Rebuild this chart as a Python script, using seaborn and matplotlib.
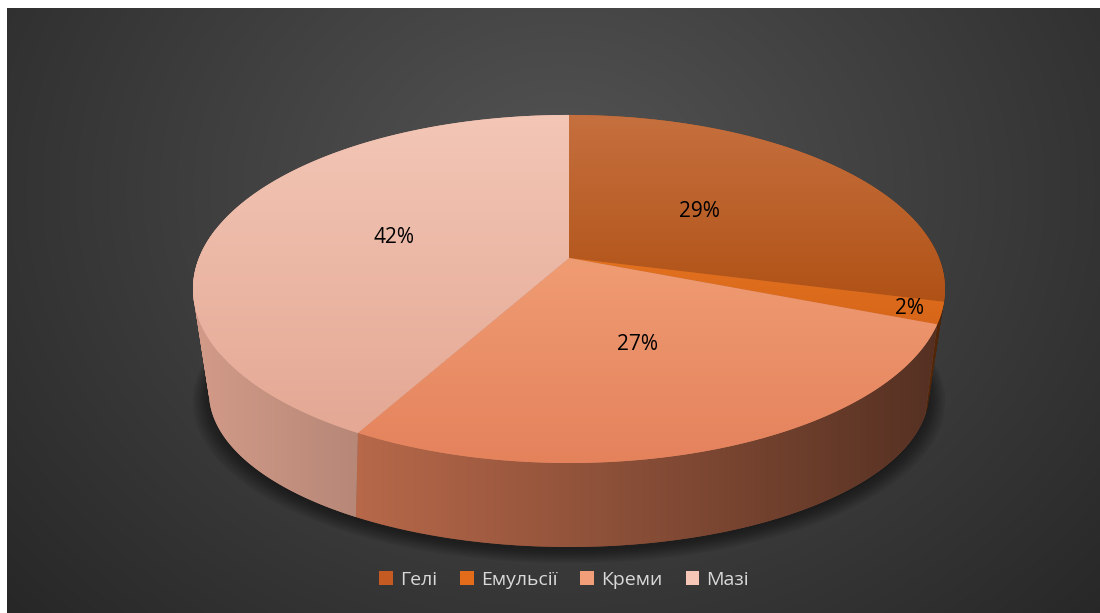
import numpy as np
import matplotlib
matplotlib.use("Agg")
import matplotlib.pyplot as plt
import seaborn as sns
from matplotlib.patches import Polygon, Patch, PathPatch
from matplotlib.path import Path
from matplotlib.colors import to_rgb

# ---------------- data ----------------
categories = ["Гелі", "Емульсії", "Креми", "Мазі"]
values = [29, 2, 27, 42]
legend_colors = ["#C55A22", "#E36C1A", "#F29E78", "#F6C7B6"]
top_light = ["#C6703F", "#E2711F", "#F09C73", "#F3C6B6"]
top_dark = ["#B05216", "#D8661A", "#E4825C", "#E4A894"]
label_radius = [0.47, 0.92, 0.5, 0.5]

sns.set_theme(style="white")
plt.rcParams['font.family'] = ['Open Sans', 'DejaVu Sans']
palette = sns.color_palette(legend_colors)

W, H = 1100, 613
fig = plt.figure(figsize=(11, 6.13), dpi=100, facecolor="white")
ax = fig.add_axes([0, 0, 1, 1])
ax.set_autoscale_on(False)
ax.set_xlim(0, W)
ax.set_ylim(H, 0)
ax.axis("off")

# ---------------- background ----------------
ys, xs = np.mgrid[8:613, 7:1100]
r = np.sqrt(((xs - 560) / 1.2) ** 2 + (ys - 190) ** 2)
val = np.clip(84 - 46 * (r / 640), 38, 90) / 255.0
bg = np.dstack([val, val, val])
ax.imshow(bg, extent=(7, 1100, 613, 8), origin="upper", interpolation="bilinear", zorder=0)

# ---------------- geometry (perspective pie) ----------------
CX, CY, RX, RY, C = 569, 258, 370, 168.5, 0.178
BCY, BRX, BRY, BC = 355.4, 349.5, 145.6, 0.24


def top_pt(theta, rr=1.0):
    t = np.radians(theta)
    u, v = rr * np.sin(t), rr * np.cos(t)
    w = 1 + C * v
    return CX + RX * u / w, CY - RY * v / w


def bot_pt(theta):
    t = np.radians(theta)
    u, v = np.sin(t), np.cos(t)
    w = 1 + BC * v
    return CX + BRX * u / w, BCY - BRY * v / w


def fill_gradient(path, allpts, colfunc, z):
    allpts = np.asarray(allpts)
    x0, y0 = allpts.min(axis=0) - 2
    x1, y1 = allpts.max(axis=0) + 2
    nx, ny = int(x1 - x0) + 1, int(y1 - y0) + 1
    gx, gy = np.meshgrid(np.linspace(x0, x1, nx), np.linspace(y0, y1, ny))
    img = colfunc(gx, gy)
    mid = tuple(img[ny // 2, nx // 2])
    patch = PathPatch(path, facecolor=mid, edgecolor="none", zorder=z)
    ax.add_patch(patch)
    im = ax.imshow(img, extent=(x0, x1, y1, y0), origin="upper",
                   interpolation="bilinear", zorder=z + 0.1)
    im.set_clip_path(patch)


total = float(sum(values))
bounds = np.concatenate([[0], np.cumsum(values)]) / total * 360.0

# shadow
th_all = np.linspace(0, 360, 200)
bx, by = bot_pt(th_all)
for k in range(10):
    s = 1.0 + 0.005 * k
    sx = 569 + (bx - 569) * s
    sy = 392 + (by - 392) * s + 3 + 0.7 * k
    ax.add_patch(Polygon(np.column_stack([sx, sy]), closed=True,
                         facecolor="black", edgecolor="none", alpha=0.055, zorder=1))

# side walls: union of thin quads, consistently oriented, filled with a gradient
for i in range(len(values)):
    a, b = max(bounds[i], 80), min(bounds[i + 1], 280)
    if b <= a:
        continue
    n = max(3, int((b - a) * 2))
    th = np.linspace(a, b, n)
    tx, ty = top_pt(th)
    bxx, byy = bot_pt(th)
    verts, codes = [], []
    for k in range(n - 1):
        q = np.array([(tx[k], ty[k]), (tx[k + 1], ty[k + 1]),
                      (bxx[k + 1], byy[k + 1]), (bxx[k], byy[k])])
        area = 0.5 * np.sum(q[:, 0] * np.roll(q[:, 1], -1) - np.roll(q[:, 0], -1) * q[:, 1])
        if area < 0:
            q = q[::-1]
        verts += list(map(tuple, q)) + [tuple(q[0])]
        codes += [Path.MOVETO, Path.LINETO, Path.LINETO, Path.LINETO, Path.CLOSEPOLY]
    path = Path(verts, codes)
    base = np.array(to_rgb(top_dark[i]))

    def wall(gx, gy, base=base):
        f = np.clip(0.92 - (gx - 200) * 0.52 / 700, 0.3, 1.0)
        return np.clip(base[None, None, :] * f[..., None], 0, 1)

    pts = np.column_stack([np.concatenate([tx, bxx]), np.concatenate([ty, byy])])
    fill_gradient(path, pts, wall, 2 + i * 0.2)

# top faces
for i in range(len(values)):
    a, b = bounds[i], bounds[i + 1]
    th = np.linspace(a, b, max(4, int((b - a) * 2)))
    tx, ty = top_pt(th)
    xy = np.column_stack([np.concatenate([[CX], tx]), np.concatenate([[CY], ty])])
    c0 = np.array(to_rgb(top_light[i]))
    c1 = np.array(to_rgb(top_dark[i]))
    ymin, ymax = xy[:, 1].min(), xy[:, 1].max()

    def topf(gx, gy, c0=c0, c1=c1, ymin=ymin, ymax=ymax):
        t = np.clip((gy - ymin) / max(ymax - ymin, 1), 0, 1)[..., None]
        return c0[None, None, :] * (1 - t) + c1[None, None, :] * t

    path = Path(np.vstack([xy, xy[:1]]), closed=True)
    fill_gradient(path, xy, topf, 4 + i * 0.2)

# labels
for i in range(len(values)):
    mid = (bounds[i] + bounds[i + 1]) / 2
    lx, ly = top_pt(mid, label_radius[i])
    ax.text(lx, ly, f"{values[i]}%", ha="center", va="center",
            fontsize=15, color="black", zorder=10)

# legend
handles = [Patch(facecolor=palette[i], edgecolor="none") for i in range(len(categories))]
fig.legend(handles, categories, loc="center", bbox_to_anchor=(564 / W, 1 - 580 / H),
           ncol=4, frameon=False, fontsize=14, labelcolor="#D9D9D9",
           handlelength=0.7, handleheight=0.7, handletextpad=0.35, columnspacing=1.2)

fig.savefig("out.png", dpi=100, facecolor="white")
